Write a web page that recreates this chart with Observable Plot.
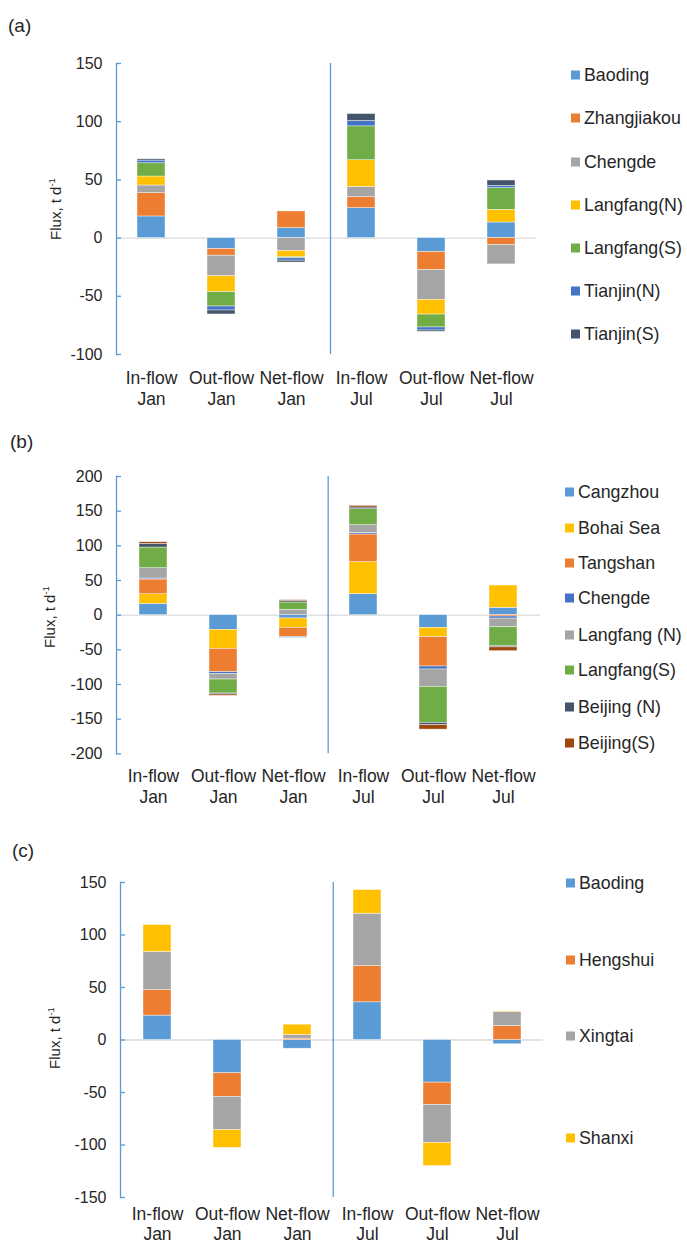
<!DOCTYPE html>
<html><head><meta charset="utf-8">
<script src="https://cdn.jsdelivr.net/npm/d3@7"></script>
<script src="https://cdn.jsdelivr.net/npm/@observablehq/plot@0.6"></script>
<style>
html,body{margin:0;padding:0;background:#fff;}
#root{position:relative;width:687px;height:1248px;overflow:hidden;font-family:"Liberation Sans",Arial,sans-serif;color:#262626;}
#root svg{position:absolute;left:0;}
.abs{position:absolute;}
.plab{font-size:19px;transform:translateY(-50%);}
.ylab{font-size:15px;transform:translate(-50%,-50%) rotate(-90deg);white-space:nowrap;}
.ylab sup{font-size:9.5px;}
.leg{font-size:17.8px;display:flex;align-items:center;white-space:nowrap;transform:translateY(-50%);}
.sw{width:9px;height:9px;display:inline-block;margin-right:4px;flex:none;}
</style></head><body><div id="root"></div><script>
const categories = ["In-flow\nJan","Out-flow\nJan","Net-flow\nJan","In-flow\nJul","Out-flow\nJul","Net-flow\nJul"];

// Panel (a)
const seriesA = ["Baoding","Zhangjiakou","Chengde","Langfang(N)","Langfang(S)","Tianjin(N)","Tianjin(S)"];
const colorsA = ["#5B9BD5","#ED7D31","#A5A5A5","#FFC000","#70AD47","#4472C4","#44546A"];
const a_Baoding     = [18.6,  -9.4,   8.6, 25.7, -12.0,  13.4];
const a_Zhangjiakou = [20.0,  -5.7,  14.3,  9.4, -15.4,  -6.0];
const a_Chengde     = [ 6.6, -17.7, -11.1,  8.9, -25.7, -16.6];
const a_LangfangN   = [ 7.7, -13.7,  -5.4, 22.9, -12.6,  10.9];
const a_LangfangS   = [11.4, -12.3,  -0.9, 29.1, -11.1,  18.6];
const a_TianjinN    = [ 2.3,  -3.4,  -2.0,  4.6,  -2.6,   2.0];
const a_TianjinS    = [ 1.1,  -3.4,  -1.6,  6.0,  -1.1,   4.6];
const ticksA = [-100,-50,0,50,100,150];

// Panel (b)
const seriesB = ["Cangzhou","Bohai Sea","Tangshan","Chengde","Langfang (N)","Langfang(S)","Beijing (N)","Beijing(S)"];
const colorsB = ["#5B9BD5","#FFC000","#ED7D31","#4472C4","#A5A5A5","#70AD47","#44546A","#9E480E"];
const b_Cangzhou  = [16.3, -21.2,  -4.8, 30.3, -18.3,  10.6];
const b_BohaiSea  = [13.9, -27.4, -13.5, 46.2, -13.5,  32.2];
const b_Tangshan  = [21.2, -33.7, -13.5, 39.9, -42.3,  -2.0];
const b_Chengde   = [ 1.4,  -2.4,  -1.0,  1.9,  -4.3,  -3.0];
const b_LangfangN = [14.9,  -8.2,   7.7, 11.5, -25.0, -12.5];
const b_LangfangS = [29.8, -20.2,  10.6, 23.1, -52.0, -27.5];
const b_BeijingN  = [ 5.3,  -1.4,   1.9,  2.4,  -3.4,  -1.5];
const b_BeijingS  = [ 2.4,  -1.9,   1.4,  2.4,  -6.3,  -5.5];
const ticksB = [-200,-150,-100,-50,0,50,100,150,200];

// Panel (c)
const seriesC = ["Baoding","Hengshui","Xingtai","Shanxi"];
const colorsC = ["#5B9BD5","#ED7D31","#A5A5A5","#FFC000"];
const c_Baoding  = [23.2, -31.7, -8.3, 35.9, -40.6, -4.1];
const c_Hengshui = [24.4, -22.5,  1.3, 34.6, -21.3, 13.3];
const c_Xingtai  = [36.2, -31.7,  3.5, 49.8, -36.2, 13.3];
const c_Shanxi   = [25.7, -16.8,  9.8, 22.5, -21.9,  0.6];
const ticksC = [-150,-100,-50,0,50,100,150];

const BLUE = "#5B9BD5";
const root = document.getElementById("root");

function panel(cfg) {
  const data = [];
  cfg.series.forEach((s, i) => cfg.values[i].forEach((v, j) => data.push({cat: categories[j], series: s, value: v})));
  const mt = 20, mb = 70;
  const h = cfg.axisBottom - cfg.axisTop;
  const step = (cfg.frameRight - cfg.frameLeft) / 6;
  const ymin = d3.min(cfg.ticks), ymax = d3.max(cfg.ticks);
  const svg = Plot.plot({
    width: 687, height: h + mt + mb,
    marginTop: mt, marginBottom: mb, marginLeft: cfg.frameLeft, marginRight: 687 - cfg.frameRight,
    style: {background: "transparent", overflow: "visible", fontFamily: "Liberation Sans, Arial, sans-serif", color: "#262626"},
    x: {domain: categories, paddingInner: 0.6, paddingOuter: 0.3},
    y: {domain: [ymin, ymax]},
    color: {domain: cfg.series, range: cfg.colors},
    marks: [
      Plot.ruleY([0], {stroke: "#D9D9D9", strokeWidth: 1.3}),
      Plot.barY(data, {x: "cat", y: "value", fill: "series", stroke: "#ffffff", strokeWidth: 0.6, strokeOpacity: 0.7}),
      Plot.ruleX([categories[3]], {y1: ymin, y2: ymax, stroke: BLUE, strokeWidth: 1.3, dx: -step / 2 + cfg.divShift}),
      Plot.frame({anchor: "left", stroke: BLUE, strokeWidth: 1.3}),
      Plot.axisY(cfg.ticks, {tickSize: 5, dx: 5, stroke: BLUE, strokeWidth: 1.3, fill: "none", label: null}),
      Plot.axisY(cfg.ticks, {tickSize: 0, tickPadding: 14, fontSize: 16, fill: "#262626", label: null, tickFormat: d => String(d)}),
      Plot.axisX({tickSize: 0, tickPadding: cfg.labelPad, fontSize: 17.5, lineHeight: cfg.lineH, fill: "#262626", label: null, tickFormat: d => d})
    ]
  });
  svg.style.top = (cfg.axisTop - mt) + "px";
  root.appendChild(svg);

  const pl = document.createElement("div");
  pl.className = "abs plab"; pl.textContent = cfg.tag;
  pl.style.left = cfg.tagX + "px"; pl.style.top = cfg.tagY + "px";
  root.appendChild(pl);

  const yl = document.createElement("div");
  yl.className = "abs ylab"; yl.innerHTML = "Flux, t d<sup>-1</sup>";
  yl.style.left = cfg.ylabX + "px"; yl.style.top = cfg.ylabY + "px";
  root.appendChild(yl);

  cfg.series.forEach((s, i) => {
    const it = document.createElement("div");
    it.className = "abs leg";
    it.style.left = cfg.legX + "px"; it.style.top = cfg.legY[i] + "px";
    const sw = document.createElement("span"); sw.className = "sw"; sw.style.background = cfg.colors[i];
    const tx = document.createElement("span"); tx.textContent = s;
    it.appendChild(sw); it.appendChild(tx);
    root.appendChild(it);
  });
}

panel({tag: "(a)", tagX: 8, tagY: 26, ylabX: 55, ylabY: 209,
  series: seriesA, colors: colorsA,
  values: [a_Baoding, a_Zhangjiakou, a_Chengde, a_LangfangN, a_LangfangS, a_TianjinN, a_TianjinS],
  ticks: ticksA, axisTop: 63.3, axisBottom: 354.3, frameLeft: 116, frameRight: 536, divShift: 4, labelPad: 15, lineH: 1.2,
  legX: 571, legY: [75, 118.3, 161.7, 205, 248, 290.7, 334]});

panel({tag: "(b)", tagX: 10, tagY: 442, ylabX: 49, ylabY: 617,
  series: seriesB, colors: colorsB,
  values: [b_Cangzhou, b_BohaiSea, b_Tangshan, b_Chengde, b_LangfangN, b_LangfangS, b_BeijingN, b_BeijingS],
  ticks: ticksB, axisTop: 476, axisBottom: 753.3, frameLeft: 116, frameRight: 540, divShift: 0, labelPad: 13, lineH: 1.2,
  legX: 565, legY: [491.7, 528.3, 563.3, 598.3, 635, 670, 707.3, 743.3]});

panel({tag: "(c)", tagX: 12, tagY: 851, ylabX: 54, ylabY: 1038,
  series: seriesC, colors: colorsC,
  values: [c_Baoding, c_Hengshui, c_Xingtai, c_Shanxi],
  ticks: ticksC, axisTop: 882.3, axisBottom: 1197.3, frameLeft: 120, frameRight: 543, divShift: 1, labelPad: 9, lineH: 1.12,
  legX: 566, legY: [883, 960, 1036, 1138]});
</script></body></html>
